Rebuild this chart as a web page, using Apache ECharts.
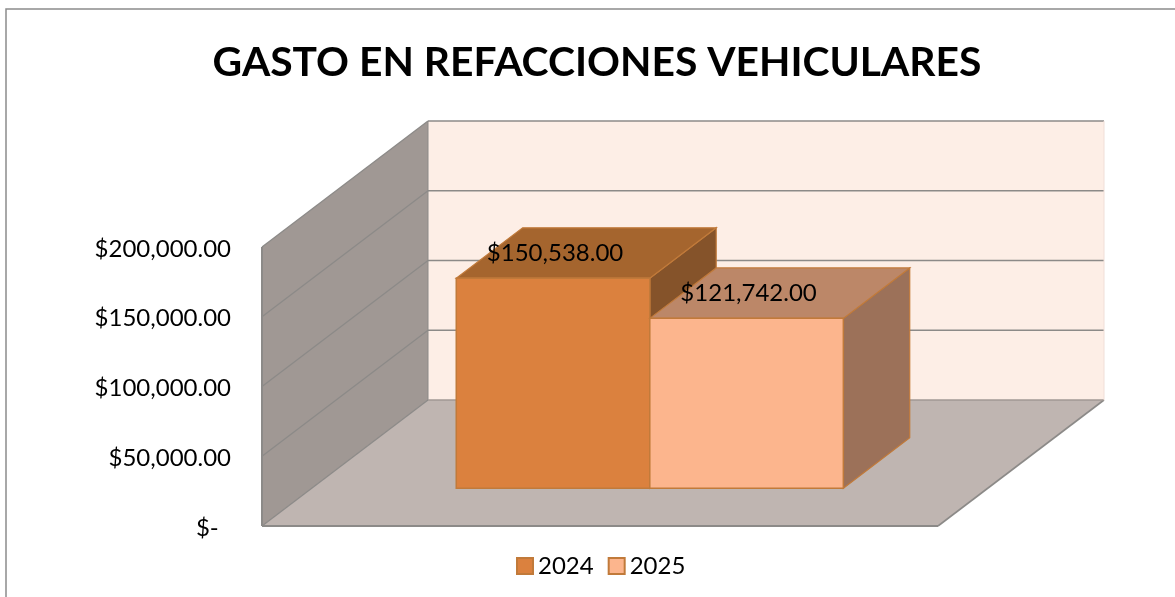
<!DOCTYPE html>
<html>
<head>
<meta charset="utf-8">
<style>html,body{margin:0;padding:0;background:#fff;overflow:hidden}#chart{width:1175px;height:597px}</style>
<script src="https://cdn.jsdelivr.net/npm/echarts@6/dist/echarts.min.js"></script>
</head>
<body>
<div id="chart"></div>
<script>
var categories = ['Gasto'];
var values2024 = [150538];
var values2025 = [121742];
var ticks = [0, 50000, 100000, 150000, 200000];
var tickLabels = ['$-  ', '$50,000.00', '$100,000.00', '$150,000.00', '$200,000.00'];

// proyeccion de la caja 3D
var depthX = 166, depthY = -126;
var barDepthFrom = 0.3, barDepthTo = 0.7;
var barWidth = 0.2863; // fraccion de la banda

var font = 'Lato, sans-serif';
var edge = '#8c8a88';

function project(p, d) {
    return [p[0] + depthX * d, p[1] + depthY * d];
}

function renderWalls(params, api) {
    var half = api.size([1, 0])[0] / 2;
    var c = api.coord([0, 0]);
    var top = api.coord([0, ticks[ticks.length - 1]]);
    var l = c[0] - half, r = c[0] + half;
    var children = [];
    var poly = function (pts, fill, stroke) {
        children.push({type: 'polygon', shape: {points: pts}, style: {fill: fill, stroke: stroke, lineWidth: 1.5}});
    };
    var line = function (a, b, color, w) {
        children.push({type: 'line', shape: {x1: a[0], y1: a[1], x2: b[0], y2: b[1]}, style: {stroke: color, lineWidth: w, fill: null}});
    };
    // pared del fondo, pared lateral y piso
    poly([project([l, top[1]], 1), project([r, top[1]], 1), project([r, c[1]], 1), project([l, c[1]], 1)], '#fdeee6', null);
    poly([[l, top[1]], project([l, top[1]], 1), project([l, c[1]], 1), [l, c[1]]], '#a09894', null);
    poly([[l, c[1]], project([l, c[1]], 1), project([r, c[1]], 1), [r, c[1]]], '#bfb5b1', null);
    ticks.forEach(function (t) {
        var y = api.coord([0, t])[1];
        if (t > 0) line(project([l, y], 1), project([r, y], 1), edge, 1.6);
        line([l, y], project([l, y], 1), edge, 1.3);
    });
    line([l, top[1]], [l, c[1]], edge, 2);
    line([l, c[1]], [r, c[1]], edge, 2);
    line([r, c[1]], project([r, c[1]], 1), edge, 1.6);
    line(project([l, top[1]], 1), project([l, c[1]], 1), edge, 1);
    line(project([l, c[1]], 1), project([r, c[1]], 1), '#a09894', 1.6);
    line(project([r, top[1]], 1), project([r, c[1]], 1), '#f0dfd8', 1);
    return {type: 'group', children: children};
}

function barRenderer(slot, front, topFace, side) {
    return function (params, api) {
        var band = api.size([1, 0])[0];
        var c = api.coord([api.value(0), 0]);
        var h = api.coord([api.value(0), api.value(1)]);
        var w = band * barWidth;
        var x0 = c[0] - w + slot * w, x1 = x0 + w;
        var a = project([x0, h[1]], barDepthFrom), b = project([x1, h[1]], barDepthFrom);
        var d = project([x1, c[1]], barDepthFrom), e = project([x0, c[1]], barDepthFrom);
        var a2 = project([x0, h[1]], barDepthTo), b2 = project([x1, h[1]], barDepthTo);
        var d2 = project([x1, c[1]], barDepthTo);
        var stroke = '#c17a3a';
        return {type: 'group', children: [
            {type: 'polygon', shape: {points: [b, b2, d2, d]}, style: {fill: side, stroke: stroke, lineWidth: 1.2}},
            {type: 'polygon', shape: {points: [a, a2, b2, b]}, style: {fill: topFace, stroke: stroke, lineWidth: 1.2}},
            {type: 'polygon', shape: {points: [a, b, d, e]}, style: {fill: front, stroke: stroke, lineWidth: 1.5}},
            {type: 'text', z2: 10, style: {
                x: (a[0] + b[0]) / 2 + 2,
                y: (a[1] + a2[1]) / 2,
                text: '$' + api.value(1).toLocaleString('en-US', {minimumFractionDigits: 2}),
                fontFamily: font, fontSize: 24, fill: '#000',
                align: 'center', verticalAlign: 'middle'
            }}
        ]};
    };
}

var chart = echarts.init(document.getElementById('chart'));
chart.setOption({
    animation: false,
    backgroundColor: '#fff',
    title: {
        text: 'GASTO EN REFACCIONES VEHICULARES',
        left: 592, top: 37, textAlign: 'center',
        textStyle: {fontFamily: font, fontSize: 40.8, fontWeight: 'bold', color: '#000'}
    },
    legend: {
        data: ['2024', '2025'],
        left: 511, top: 549,
        icon: 'rect', itemWidth: 16, itemHeight: 16, itemGap: 14,
        textStyle: {fontFamily: font, fontSize: 24, color: '#000'}
    },
    grid: {left: 262, top: 247, width: 676, height: 279},
    xAxis: {type: 'category', data: categories, show: false},
    yAxis: {
        type: 'value', min: 0, max: 200000, interval: 50000,
        axisLine: {show: false}, axisTick: {show: false}, splitLine: {show: false},
        axisLabel: {
            margin: 31, fontFamily: font, fontSize: 24, color: '#000',
            verticalAlign: 'top', lineHeight: 4,
            formatter: function (v) { return tickLabels[ticks.indexOf(v)]; }
        }
    },
    graphic: [{
        type: 'rect', silent: true, z: -1,
        shape: {x: 6, y: 9, width: 1300, height: 700},
        style: {fill: null, stroke: '#8c8c8c', lineWidth: 1.5}
    }],
    series: [
        {type: 'custom', name: 'paredes', silent: true, renderItem: renderWalls, data: [[0, 0]], encode: {x: 0, y: 1}, z: 1},
        {
            type: 'custom', name: '2024', renderItem: barRenderer(0, '#db813e', '#a5652e', '#85532a'),
            data: [[0, values2024[0]]], encode: {x: 0, y: 1}, z: 2,
            itemStyle: {color: '#db813e', borderColor: '#c17a3a', borderWidth: 1.5}
        },
        {
            type: 'custom', name: '2025', renderItem: barRenderer(1, '#fcb58d', '#bc8768', '#9c7159'),
            data: [[0, values2025[0]]], encode: {x: 0, y: 1}, z: 3,
            itemStyle: {color: '#fcb58d', borderColor: '#c17a3a', borderWidth: 1.5}
        }
    ]
});
</script>
</body>
</html>
